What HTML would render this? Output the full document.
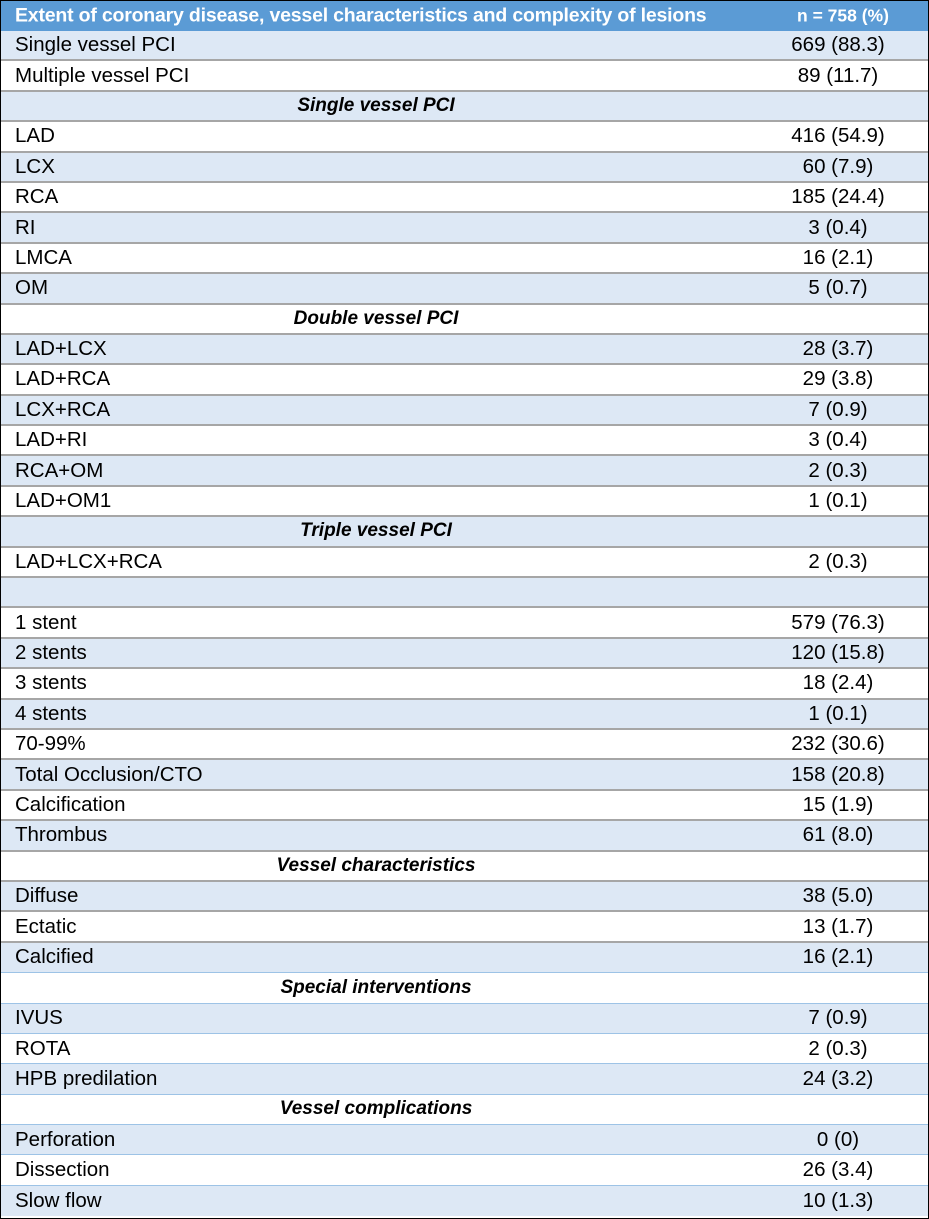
<!DOCTYPE html>
<html><head><meta charset="utf-8"><style>
body{margin:0;width:929px;height:1219px;background:#fff;overflow:hidden}
.t{position:absolute;left:0;top:0;width:927px;height:1217px;border:1px solid #000;font-family:"Liberation Sans",sans-serif;color:#000}
.h{height:30px;background:#5b9bd5;color:#fff;font-weight:bold;font-size:19.5px;position:relative}
.r{height:30.4px;box-sizing:border-box;position:relative;font-size:20.5px;border-bottom:2px solid #a6a6a6}
.r.b{border-bottom:1px solid #9dc3e6}
.r.l{background:#dde8f5}
.a{position:absolute;left:14px;top:50%;transform:translateY(-50%);white-space:nowrap}
.v{position:absolute;left:837px;top:50%;transform:translate(-50%,-50%);white-space:nowrap;font-size:20.5px}
.s{position:absolute;left:375px;top:50%;transform:translate(-50%,-50%);font-weight:bold;font-style:italic;white-space:nowrap;font-size:19px}
</style></head><body><div class="t">
<div class="h"><span class="a" style="letter-spacing:-0.2px">Extent of coronary disease, vessel characteristics and complexity of lesions</span><span class="v" style="left:842px;font-size:17.5px">n = 758 (%)</span></div>
<div class="r l"><span class="a">Single vessel PCI</span><span class="v">669 (88.3)</span></div>
<div class="r"><span class="a">Multiple vessel PCI</span><span class="v">89 (11.7)</span></div>
<div class="r l"><span class="s">Single vessel PCI</span></div>
<div class="r"><span class="a">LAD</span><span class="v">416 (54.9)</span></div>
<div class="r l"><span class="a">LCX</span><span class="v">60 (7.9)</span></div>
<div class="r"><span class="a">RCA</span><span class="v">185 (24.4)</span></div>
<div class="r l"><span class="a">RI</span><span class="v">3 (0.4)</span></div>
<div class="r"><span class="a">LMCA</span><span class="v">16 (2.1)</span></div>
<div class="r l"><span class="a">OM</span><span class="v">5 (0.7)</span></div>
<div class="r"><span class="s">Double vessel PCI</span></div>
<div class="r l"><span class="a">LAD+LCX</span><span class="v">28 (3.7)</span></div>
<div class="r"><span class="a">LAD+RCA</span><span class="v">29 (3.8)</span></div>
<div class="r l"><span class="a">LCX+RCA</span><span class="v">7 (0.9)</span></div>
<div class="r"><span class="a">LAD+RI</span><span class="v">3 (0.4)</span></div>
<div class="r l"><span class="a">RCA+OM</span><span class="v">2 (0.3)</span></div>
<div class="r"><span class="a">LAD+OM1</span><span class="v">1 (0.1)</span></div>
<div class="r l"><span class="s">Triple vessel PCI</span></div>
<div class="r"><span class="a">LAD+LCX+RCA</span><span class="v">2 (0.3)</span></div>
<div class="r l"></div>
<div class="r"><span class="a">1 stent</span><span class="v">579 (76.3)</span></div>
<div class="r l"><span class="a">2 stents</span><span class="v">120 (15.8)</span></div>
<div class="r"><span class="a">3 stents</span><span class="v">18 (2.4)</span></div>
<div class="r l"><span class="a">4 stents</span><span class="v">1 (0.1)</span></div>
<div class="r"><span class="a">70-99%</span><span class="v">232 (30.6)</span></div>
<div class="r l"><span class="a">Total Occlusion/CTO</span><span class="v">158 (20.8)</span></div>
<div class="r"><span class="a">Calcification</span><span class="v">15 (1.9)</span></div>
<div class="r l"><span class="a">Thrombus</span><span class="v">61 (8.0)</span></div>
<div class="r"><span class="s">Vessel characteristics</span></div>
<div class="r l"><span class="a">Diffuse</span><span class="v">38 (5.0)</span></div>
<div class="r"><span class="a">Ectatic</span><span class="v">13 (1.7)</span></div>
<div class="r l b"><span class="a">Calcified</span><span class="v">16 (2.1)</span></div>
<div class="r b"><span class="s">Special interventions</span></div>
<div class="r l b"><span class="a">IVUS</span><span class="v">7 (0.9)</span></div>
<div class="r b"><span class="a">ROTA</span><span class="v">2 (0.3)</span></div>
<div class="r l b"><span class="a">HPB predilation</span><span class="v">24 (3.2)</span></div>
<div class="r b"><span class="s">Vessel complications</span></div>
<div class="r l b"><span class="a">Perforation</span><span class="v">0 (0)</span></div>
<div class="r b"><span class="a">Dissection</span><span class="v">26 (3.4)</span></div>
<div class="r l" style="border-bottom:none"><span class="a">Slow flow</span><span class="v">10 (1.3)</span></div>
</div></body></html>
